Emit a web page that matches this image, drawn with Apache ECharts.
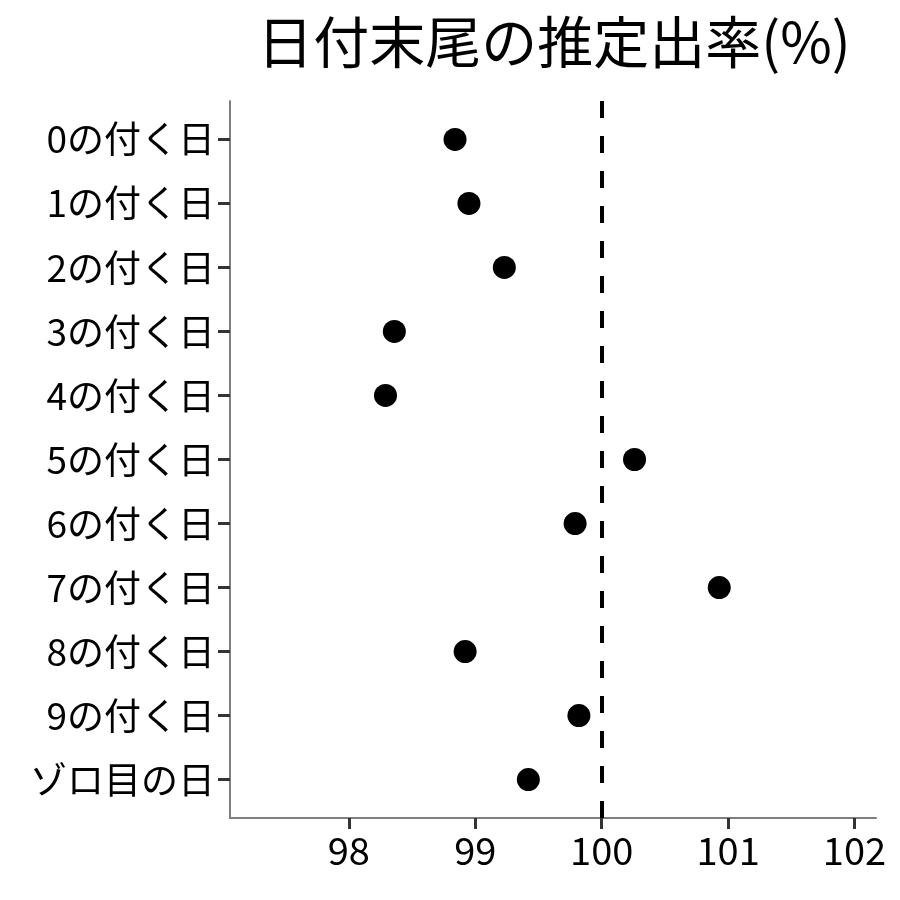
<!DOCTYPE html>
<html><head><meta charset="utf-8">
<script src="https://cdn.jsdelivr.net/npm/echarts@6/dist/echarts.min.js"></script>
<style>html,body{margin:0;padding:0;background:#fff}#c{width:900px;height:900px}</style>
</head><body><div id="c"></div>
<script>
const categories = ['0の付く日','1の付く日','2の付く日','3の付く日','4の付く日','5の付く日','6の付く日','7の付く日','8の付く日','9の付く日','ゾロ目の日'];
const rates = [98.84, 98.95, 99.23, 98.36, 98.29, 100.26, 99.79, 100.93, 98.92, 99.82, 99.42];
const xTicks = [98, 99, 100, 101, 102];
const refValue = 100;
const titleText = '日付末尾の推定出率(%)';

const font = '"Noto Sans CJK JP", "Noto Sans", sans-serif';
const chart = echarts.init(document.getElementById('c'), null, {renderer: 'canvas'});
const idx = categories.map((_, i) => i);
chart.setOption({
  animation: false,
  backgroundColor: '#ffffff',
  title: {
    text: titleText, left: 549, top: 9, textAlign: 'center',
    textStyle: {fontFamily: font, fontSize: 56, fontWeight: 'normal', color: '#000'}
  },
  grid: {left: 230, right: 24, top: 101, bottom: 82, containLabel: false},
  xAxis: {
    type: 'value', min: 97.06, max: 102.17,
    axisLine: {show: true, onZero: false, lineStyle: {color: '#7f7f7f', width: 2}},
    axisTick: {show: true, length: 11, lineStyle: {color: '#333', width: 3}, customValues: xTicks},
    axisLabel: {customValues: xTicks, margin: 14, fontFamily: font, fontSize: 38, color: '#000'},
    splitLine: {show: false}
  },
  yAxis: {
    type: 'value', min: -0.6, max: 10.6, inverse: true,
    axisLine: {show: true, onZero: false, lineStyle: {color: '#7f7f7f', width: 2}},
    axisTick: {show: true, length: 12, lineStyle: {color: '#333', width: 3}, customValues: idx},
    axisLabel: {customValues: idx, margin: 15, fontFamily: font, fontSize: 37, color: '#000',
      formatter: v => categories[Math.round(v)]},
    splitLine: {show: false}
  },
  series: [{
    type: 'scatter',
    data: rates.map((r, i) => [r, i]),
    symbol: 'circle', symbolSize: 23,
    itemStyle: {color: '#000', opacity: 1},
    z: 3,
    markLine: {
      silent: true, symbol: ['none', 'none'], label: {show: false},
      lineStyle: {color: '#000', width: 4, type: [17, 18]},
      data: [{xAxis: refValue}]
    }
  }]
});
</script></body></html>
